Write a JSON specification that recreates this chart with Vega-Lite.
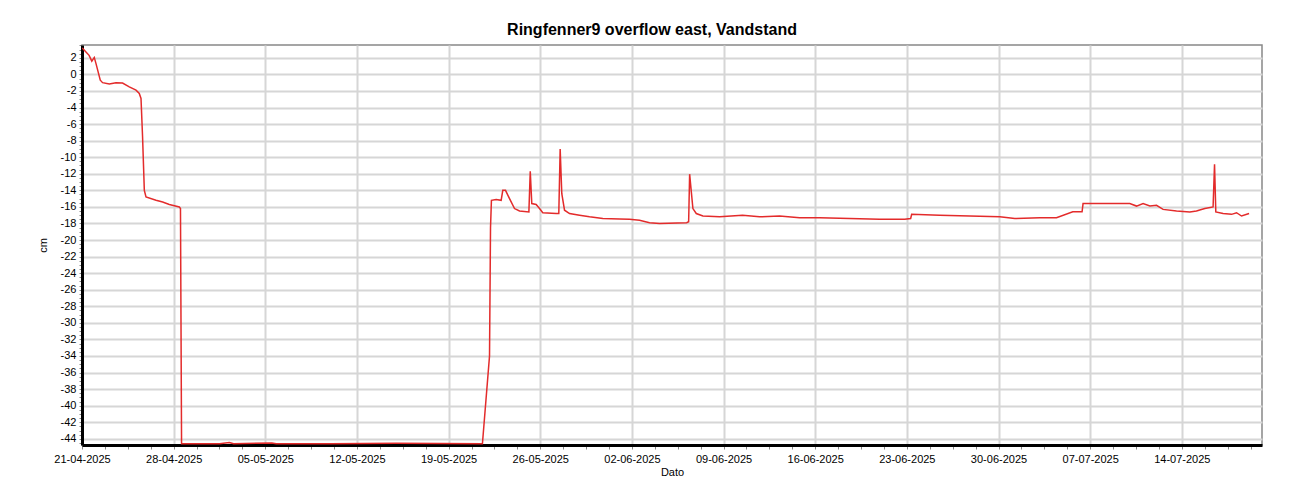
{
  "$schema": "https://vega.github.io/schema/vega-lite/v6.json",
  "autosize": "none",
  "width": 1180,
  "height": 400,
  "padding": {"left": 82, "top": 45, "right": 38, "bottom": 55},
  "background": "white",
  "config": {
    "font": "Liberation Sans",
    "view": {"stroke": "#888888", "strokeWidth": 1.5}
  },
  "title": {
    "text": "Ringfenner9 overflow east, Vandstand",
    "fontSize": 16,
    "fontWeight": "bold",
    "font": "Liberation Sans",
    "color": "black",
    "anchor": "middle",
    "offset": 1,
    "dx": -20
  },
  "data": {
    "values": [
      {"t": "2025-04-21T00:30", "v": 3.2},
      {"t": "2025-04-21T06:00", "v": 2.8},
      {"t": "2025-04-21T13:00", "v": 2.3},
      {"t": "2025-04-21T18:00", "v": 1.6},
      {"t": "2025-04-21T22:30", "v": 2.05},
      {"t": "2025-04-22T01:40", "v": 1.3},
      {"t": "2025-04-22T09:30", "v": -0.7},
      {"t": "2025-04-22T13:45", "v": -1.0},
      {"t": "2025-04-23T02:00", "v": -1.15},
      {"t": "2025-04-23T14:20", "v": -1.0},
      {"t": "2025-04-24T02:20", "v": -1.05},
      {"t": "2025-04-24T14:40", "v": -1.5},
      {"t": "2025-04-25T03:00", "v": -1.9},
      {"t": "2025-04-25T09:00", "v": -2.3},
      {"t": "2025-04-25T12:10", "v": -2.9},
      {"t": "2025-04-25T15:00", "v": -7.5},
      {"t": "2025-04-25T18:15", "v": -14.0},
      {"t": "2025-04-25T21:20", "v": -14.8},
      {"t": "2025-04-26T15:40", "v": -15.2},
      {"t": "2025-04-27T03:50", "v": -15.4},
      {"t": "2025-04-27T16:00", "v": -15.7},
      {"t": "2025-04-28T10:20", "v": -16.0},
      {"t": "2025-04-28T12:30", "v": -16.2},
      {"t": "2025-04-28T14:30", "v": -44.6},
      {"t": "2025-05-01T12:00", "v": -44.6},
      {"t": "2025-05-02T06:00", "v": -44.45},
      {"t": "2025-05-02T14:00", "v": -44.6},
      {"t": "2025-05-05T12:00", "v": -44.5},
      {"t": "2025-05-05T20:00", "v": -44.6},
      {"t": "2025-05-10T00:00", "v": -44.6},
      {"t": "2025-05-15T00:00", "v": -44.55},
      {"t": "2025-05-21T14:00", "v": -44.6},
      {"t": "2025-05-22T03:00", "v": -34.0},
      {"t": "2025-05-22T04:50", "v": -18.5},
      {"t": "2025-05-22T06:30", "v": -15.2},
      {"t": "2025-05-22T15:10", "v": -15.1},
      {"t": "2025-05-23T00:20", "v": -15.2},
      {"t": "2025-05-23T03:20", "v": -14.0},
      {"t": "2025-05-23T08:20", "v": -14.0},
      {"t": "2025-05-23T15:40", "v": -15.0},
      {"t": "2025-05-24T00:50", "v": -16.2},
      {"t": "2025-05-24T10:00", "v": -16.5},
      {"t": "2025-05-25T03:10", "v": -16.6},
      {"t": "2025-05-25T05:40", "v": -11.7},
      {"t": "2025-05-25T08:30", "v": -15.6},
      {"t": "2025-05-25T16:30", "v": -15.7},
      {"t": "2025-05-25T22:40", "v": -16.2},
      {"t": "2025-05-26T04:40", "v": -16.7},
      {"t": "2025-05-27T05:20", "v": -16.8},
      {"t": "2025-05-27T10:00", "v": -16.8},
      {"t": "2025-05-27T12:30", "v": -9.0},
      {"t": "2025-05-27T15:30", "v": -14.4},
      {"t": "2025-05-27T20:30", "v": -16.4},
      {"t": "2025-05-28T05:40", "v": -16.8},
      {"t": "2025-05-29T00:00", "v": -17.0},
      {"t": "2025-05-29T18:20", "v": -17.2},
      {"t": "2025-05-30T18:40", "v": -17.4},
      {"t": "2025-06-01T01:20", "v": -17.45},
      {"t": "2025-06-01T19:40", "v": -17.5},
      {"t": "2025-06-02T14:00", "v": -17.6},
      {"t": "2025-06-03T08:20", "v": -17.9},
      {"t": "2025-06-04T02:40", "v": -18.0},
      {"t": "2025-06-06T04:20", "v": -17.9},
      {"t": "2025-06-06T08:00", "v": -17.8},
      {"t": "2025-06-06T09:50", "v": -12.05},
      {"t": "2025-06-06T15:50", "v": -16.2},
      {"t": "2025-06-06T22:00", "v": -16.8},
      {"t": "2025-06-07T10:10", "v": -17.1},
      {"t": "2025-06-08T16:50", "v": -17.2},
      {"t": "2025-06-10T10:50", "v": -17.0},
      {"t": "2025-06-11T18:00", "v": -17.2},
      {"t": "2025-06-13T06:40", "v": -17.1},
      {"t": "2025-06-14T19:20", "v": -17.3},
      {"t": "2025-06-16T08:10", "v": -17.3},
      {"t": "2025-06-18T15:10", "v": -17.4},
      {"t": "2025-06-20T22:10", "v": -17.5},
      {"t": "2025-06-22T20:00", "v": -17.5},
      {"t": "2025-06-23T07:00", "v": -17.4},
      {"t": "2025-06-23T08:50", "v": -16.9},
      {"t": "2025-06-25T12:00", "v": -17.0},
      {"t": "2025-06-27T19:10", "v": -17.1},
      {"t": "2025-06-30T02:20", "v": -17.2},
      {"t": "2025-07-01T05:50", "v": -17.4},
      {"t": "2025-07-03T03:40", "v": -17.3},
      {"t": "2025-07-04T10:20", "v": -17.3},
      {"t": "2025-07-05T16:10", "v": -16.6},
      {"t": "2025-07-06T09:10", "v": -16.6},
      {"t": "2025-07-06T11:00", "v": -15.6},
      {"t": "2025-07-10T00:40", "v": -15.6},
      {"t": "2025-07-10T13:00", "v": -15.9},
      {"t": "2025-07-11T01:00", "v": -15.6},
      {"t": "2025-07-11T13:30", "v": -15.9},
      {"t": "2025-07-12T01:40", "v": -15.8},
      {"t": "2025-07-12T13:40", "v": -16.3},
      {"t": "2025-07-13T14:20", "v": -16.5},
      {"t": "2025-07-14T14:40", "v": -16.6},
      {"t": "2025-07-15T02:50", "v": -16.5},
      {"t": "2025-07-15T18:10", "v": -16.2},
      {"t": "2025-07-16T09:20", "v": -16.0},
      {"t": "2025-07-16T12:00", "v": -10.85},
      {"t": "2025-07-16T14:20", "v": -16.6},
      {"t": "2025-07-17T03:40", "v": -16.8},
      {"t": "2025-07-17T19:10", "v": -16.9},
      {"t": "2025-07-18T04:20", "v": -16.7},
      {"t": "2025-07-18T13:30", "v": -17.1},
      {"t": "2025-07-19T03:20", "v": -16.8}
    ]
  },
  "mark": {"type": "line", "color": "#e32b2b", "strokeWidth": 1.5, "clip": true},
  "encoding": {
    "x": {
      "field": "t",
      "type": "temporal",
      "title": "Dato",
      "scale": {
        "domain": [
          {"year": 2025, "month": 4, "date": 21, "hours": 0},
          {"year": 2025, "month": 7, "date": 20, "hours": 3}
        ],
        "nice": false
      },
      "axis": {
        "values": [
          {"year": 2025, "month": 4, "date": 21, "hours": 0},
          {"year": 2025, "month": 4, "date": 21, "hours": 42},
          {"year": 2025, "month": 4, "date": 21, "hours": 84},
          {"year": 2025, "month": 4, "date": 21, "hours": 126},
          {"year": 2025, "month": 4, "date": 21, "hours": 168},
          {"year": 2025, "month": 4, "date": 21, "hours": 210},
          {"year": 2025, "month": 4, "date": 21, "hours": 252},
          {"year": 2025, "month": 4, "date": 21, "hours": 294},
          {"year": 2025, "month": 4, "date": 21, "hours": 336},
          {"year": 2025, "month": 4, "date": 21, "hours": 378},
          {"year": 2025, "month": 4, "date": 21, "hours": 420},
          {"year": 2025, "month": 4, "date": 21, "hours": 462},
          {"year": 2025, "month": 4, "date": 21, "hours": 504},
          {"year": 2025, "month": 4, "date": 21, "hours": 546},
          {"year": 2025, "month": 4, "date": 21, "hours": 588},
          {"year": 2025, "month": 4, "date": 21, "hours": 630},
          {"year": 2025, "month": 4, "date": 21, "hours": 672},
          {"year": 2025, "month": 4, "date": 21, "hours": 714},
          {"year": 2025, "month": 4, "date": 21, "hours": 756},
          {"year": 2025, "month": 4, "date": 21, "hours": 798},
          {"year": 2025, "month": 4, "date": 21, "hours": 840},
          {"year": 2025, "month": 4, "date": 21, "hours": 882},
          {"year": 2025, "month": 4, "date": 21, "hours": 924},
          {"year": 2025, "month": 4, "date": 21, "hours": 966},
          {"year": 2025, "month": 4, "date": 21, "hours": 1008},
          {"year": 2025, "month": 4, "date": 21, "hours": 1050},
          {"year": 2025, "month": 4, "date": 21, "hours": 1092},
          {"year": 2025, "month": 4, "date": 21, "hours": 1134},
          {"year": 2025, "month": 4, "date": 21, "hours": 1176},
          {"year": 2025, "month": 4, "date": 21, "hours": 1218},
          {"year": 2025, "month": 4, "date": 21, "hours": 1260},
          {"year": 2025, "month": 4, "date": 21, "hours": 1302},
          {"year": 2025, "month": 4, "date": 21, "hours": 1344},
          {"year": 2025, "month": 4, "date": 21, "hours": 1386},
          {"year": 2025, "month": 4, "date": 21, "hours": 1428},
          {"year": 2025, "month": 4, "date": 21, "hours": 1470},
          {"year": 2025, "month": 4, "date": 21, "hours": 1512},
          {"year": 2025, "month": 4, "date": 21, "hours": 1554},
          {"year": 2025, "month": 4, "date": 21, "hours": 1596},
          {"year": 2025, "month": 4, "date": 21, "hours": 1638},
          {"year": 2025, "month": 4, "date": 21, "hours": 1680},
          {"year": 2025, "month": 4, "date": 21, "hours": 1722},
          {"year": 2025, "month": 4, "date": 21, "hours": 1764},
          {"year": 2025, "month": 4, "date": 21, "hours": 1806},
          {"year": 2025, "month": 4, "date": 21, "hours": 1848},
          {"year": 2025, "month": 4, "date": 21, "hours": 1890},
          {"year": 2025, "month": 4, "date": 21, "hours": 1932},
          {"year": 2025, "month": 4, "date": 21, "hours": 1974},
          {"year": 2025, "month": 4, "date": 21, "hours": 2016},
          {"year": 2025, "month": 4, "date": 21, "hours": 2058},
          {"year": 2025, "month": 4, "date": 21, "hours": 2100},
          {"year": 2025, "month": 4, "date": 21, "hours": 2142}
        ],
        "labelExpr": "(hours(datum.value) == 0 && day(datum.value) == 1) ? timeFormat(datum.value, '%d-%m-%Y') : ''",
        "labelFontSize": 11,
        "labelColor": "black",
        "labelFont": "Liberation Sans",
        "labelPadding": 4,
        "labelOverlap": false,
        "labelFlush": false,
        "grid": true,
        "gridColor": "#d6d6d6",
        "gridWidth": 2,
        "gridOpacity": {"expr": "(hours(datum.value) == 0 && day(datum.value) == 1) ? 1 : 0"},
        "domainColor": "black",
        "domainWidth": 3,
        "tickColor": "#888888",
        "tickSize": 4,
        "tickWidth": 1,
        "titleFontSize": 11,
        "titleFontWeight": "normal",
        "titleColor": "black",
        "titleFont": "Liberation Sans",
        "titlePadding": 2
      }
    },
    "y": {
      "field": "v",
      "type": "quantitative",
      "title": "cm",
      "scale": {"domain": [-44.75, 3.55], "nice": false, "zero": false},
      "axis": {
        "values": [-44.5, -44, -43.5, -43, -42.5, -42, -41.5, -41, -40.5, -40, -39.5, -39, -38.5, -38, -37.5, -37, -36.5, -36, -35.5, -35, -34.5, -34, -33.5, -33, -32.5, -32, -31.5, -31, -30.5, -30, -29.5, -29, -28.5, -28, -27.5, -27, -26.5, -26, -25.5, -25, -24.5, -24, -23.5, -23, -22.5, -22, -21.5, -21, -20.5, -20, -19.5, -19, -18.5, -18, -17.5, -17, -16.5, -16, -15.5, -15, -14.5, -14, -13.5, -13, -12.5, -12, -11.5, -11, -10.5, -10, -9.5, -9, -8.5, -8, -7.5, -7, -6.5, -6, -5.5, -5, -4.5, -4, -3.5, -3, -2.5, -2, -1.5, -1, -0.5, 0, 0.5, 1, 1.5, 2, 2.5, 3, 3.5],
        "labelExpr": "datum.value % 2 == 0 ? '' + datum.value : ''",
        "labelFontSize": 11,
        "labelColor": "black",
        "labelFont": "Liberation Sans",
        "labelPadding": 3,
        "labelOverlap": false,
        "grid": true,
        "gridColor": "#d6d6d6",
        "gridWidth": 2,
        "gridOpacity": {"expr": "datum.value % 2 == 0 ? 1 : 0"},
        "domainColor": "black",
        "domainWidth": 3,
        "tickColor": "#888888",
        "tickSize": 3,
        "tickWidth": 1,
        "titleFontSize": 11,
        "titleFontWeight": "normal",
        "titleColor": "black",
        "titleFont": "Liberation Sans",
        "titlePadding": 12
      }
    }
  }
}
